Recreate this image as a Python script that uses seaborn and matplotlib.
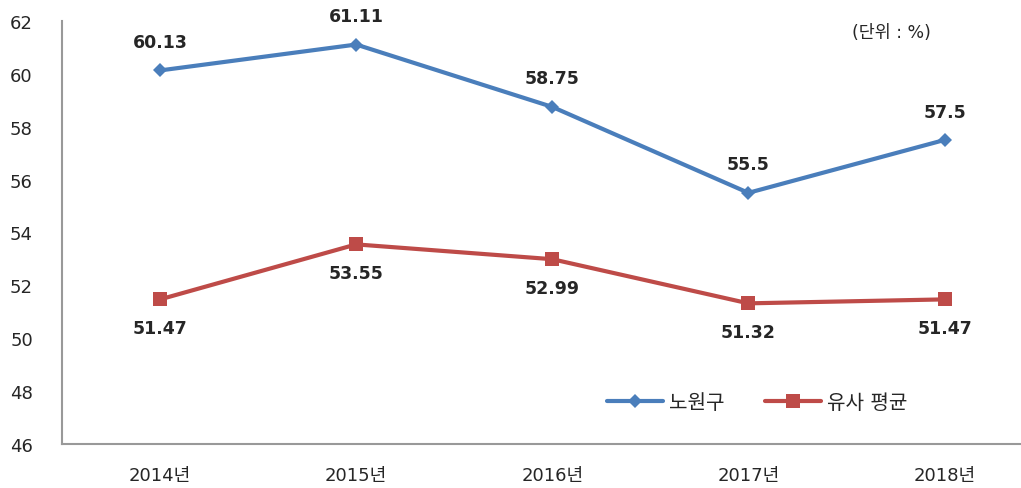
import matplotlib
matplotlib.use("Agg")
import matplotlib.pyplot as plt
import seaborn as sns
import pandas as pd

years = ["2014년", "2015년", "2016년", "2017년", "2018년"]
series_names = ["노원구", "유사 평균"]
nowon = [60.13, 61.11, 58.75, 55.5, 57.5]
similar_avg = [51.47, 53.55, 52.99, 51.32, 51.47]
nowon_labels = ["60.13", "61.11", "58.75", "55.5", "57.5"]
similar_labels = ["51.47", "53.55", "52.99", "51.32", "51.47"]
yticks = [46, 48, 50, 52, 54, 56, 58, 60, 62]

sns.set_theme(style="white")
plt.rcParams['font.family'] = ['DejaVu Sans', 'Noto Sans CJK KR']

df = pd.DataFrame({
    "year": years * 2,
    "x": list(range(len(years))) * 2,
    "value": nowon + similar_avg,
    "series": [series_names[0]] * len(years) + [series_names[1]] * len(years),
})

blue = "#4A7EBB"
red = "#BE4B48"

fig = plt.figure(figsize=(10.21, 4.89), dpi=100)
ax = fig.add_axes([62/1021, 1 - 445/489, 1 - 62/1021, (445 - 22)/489])

sns.lineplot(data=df, x="x", y="value", hue="series", style="series",
             palette={series_names[0]: blue, series_names[1]: red},
             markers={series_names[0]: "D", series_names[1]: "s"},
             dashes=False, linewidth=3, markersize=8, markeredgewidth=0,
             ax=ax, legend=True)
for line in ax.lines:
    if line.get_marker() == "D":
        line.set_markersize(7)
    elif line.get_marker() == "s":
        line.set_markersize(10)

for i, (v, t) in enumerate(zip(nowon, nowon_labels)):
    ax.annotate(t, (i, v), xytext=(0, 14), textcoords="offset points",
                ha="center", va="bottom", fontsize=12.5, fontweight="bold", color="#262626")
for i, (v, t) in enumerate(zip(similar_avg, similar_labels)):
    ax.annotate(t, (i, v), xytext=(0, -14), textcoords="offset points",
                ha="center", va="top", fontsize=12.5, fontweight="bold", color="#262626")

ax.set_xlim(-0.5, 4.39)
ax.set_ylim(46, 62)
ax.set_xticks(range(len(years)))
ax.set_xticklabels(years, fontsize=13, color="#262626")
ax.set_yticks(yticks)
ax.set_yticklabels([str(t) for t in yticks], fontsize=13, color="#262626")
ax.tick_params(axis="x", length=0, pad=16)
ax.tick_params(axis="y", length=0, pad=21)
ax.set_xlabel("")
ax.set_ylabel("")

for s in ["top", "right"]:
    ax.spines[s].set_visible(False)
for s in ["left", "bottom"]:
    ax.spines[s].set_color("#999999")
    ax.spines[s].set_linewidth(1.5)

handles, labels = ax.get_legend_handles_labels()
ax.legend(handles, labels, loc="center", bbox_to_anchor=(0.725, 0.097), ncol=2,
          frameon=False, fontsize=14.5, handlelength=2.8, columnspacing=2, handletextpad=0.3)

ax.text(0.865, 0.975, "(단위 : %)", transform=ax.transAxes, ha="center", va="center",
        fontsize=12.5, color="#262626")

fig.savefig("out.png", dpi=100)
